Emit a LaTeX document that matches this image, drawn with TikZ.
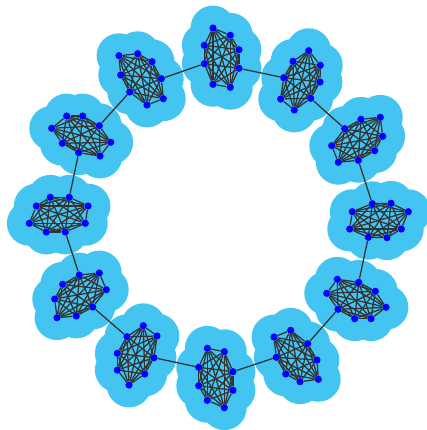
\documentclass[tikz,border=0pt]{standalone}
\pgfdeclarelayer{halos}
\pgfdeclarelayer{links}
\pgfsetlayers{halos,links,main}
\definecolor{haloblue}{RGB}{68,196,240}

\begin{document}
\begin{tikzpicture}[
  x=0.025cm, y=-0.025cm,
  vertex/.style = {circle, fill=blue, inner sep=0pt, minimum size=0.18cm},
  link/.style = {draw=black!80, line width=0.9pt},
  halo/.style = {fill=haloblue},
]
  \useasboundingbox (0,0) rectangle (427,430);

  % clique a (top)
  \node[vertex] (a1) at (213,28) {};
  \node[vertex] (a2) at (230.3,35.3) {};
  \node[vertex] (a3) at (204.3,45.3) {};
  \node[vertex] (a4) at (239,49.7) {};
  \node[vertex] (a5) at (204.3,63.7) {};
  \node[vertex] (a6) at (239,68.3) {};
  \node[vertex] (a7) at (213,84.3) {};
  \node[vertex] (a8) at (230.3,87.3) {};

  % clique b
  \node[vertex] (b1) at (308.7,50.7) {};
  \node[vertex] (b2) at (293,61.3) {};
  \node[vertex] (b3) at (320.3,65.3) {};
  \node[vertex] (b4) at (283.7,77.7) {};
  \node[vertex] (b5) at (320,82) {};
  \node[vertex] (b6) at (280.7,99) {};
  \node[vertex] (b7) at (310.7,98.3) {};
  \node[vertex] (b8) at (294.3,110) {};

  % clique c
  \node[vertex] (c1) at (361,119.3) {};
  \node[vertex] (c2) at (380.3,117.3) {};
  \node[vertex] (c3) at (344.7,128.7) {};
  \node[vertex] (c4) at (382.7,136.3) {};
  \node[vertex] (c5) at (331.7,145.7) {};
  \node[vertex] (c6) at (374.7,150.7) {};
  \node[vertex] (c7) at (358.3,160.3) {};
  \node[vertex] (c8) at (338.3,162.3) {};

  % clique d (right)
  \node[vertex] (d1) at (372.3,203.7) {};
  \node[vertex] (d2) at (391,203.3) {};
  \node[vertex] (d3) at (352.3,211.7) {};
  \node[vertex] (d4) at (408.3,211.7) {};
  \node[vertex] (d5) at (349.7,229) {};
  \node[vertex] (d6) at (401.3,229) {};
  \node[vertex] (d7) at (368.3,237.3) {};
  \node[vertex] (d8) at (387,237.7) {};

  % clique e
  \node[vertex] (e1) at (337.3,279.3) {};
  \node[vertex] (e2) at (358.7,282.3) {};
  \node[vertex] (e3) at (326.7,293.3) {};
  \node[vertex] (e4) at (375.3,291.3) {};
  \node[vertex] (e5) at (338,309.3) {};
  \node[vertex] (e6) at (386,307.3) {};
  \node[vertex] (e7) at (354.7,318.7) {};
  \node[vertex] (e8) at (371,318.7) {};

  % clique f
  \node[vertex] (f1) at (290.7,330.3) {};
  \node[vertex] (f2) at (274,337) {};
  \node[vertex] (f3) at (307.7,343.7) {};
  \node[vertex] (f4) at (276.3,357.3) {};
  \node[vertex] (f5) at (317,360) {};
  \node[vertex] (f6) at (285.7,374) {};
  \node[vertex] (f7) at (300,381.7) {};
  \node[vertex] (f8) at (318.3,379.3) {};

  % clique g (bottom)
  \node[vertex] (g1) at (207.3,348.3) {};
  \node[vertex] (g2) at (224.3,351.7) {};
  \node[vertex] (g3) at (198.7,367.3) {};
  \node[vertex] (g4) at (233,371.7) {};
  \node[vertex] (g5) at (198.7,385.7) {};
  \node[vertex] (g6) at (233,390.3) {};
  \node[vertex] (g7) at (207.3,400.3) {};
  \node[vertex] (g8) at (224.3,407.7) {};

  % clique h
  \node[vertex] (h1) at (143.3,325.7) {};
  \node[vertex] (h2) at (127,336.7) {};
  \node[vertex] (h3) at (157,336) {};
  \node[vertex] (h4) at (117.3,353.3) {};
  \node[vertex] (h5) at (154,357.7) {};
  \node[vertex] (h6) at (117.3,370) {};
  \node[vertex] (h7) at (144.7,374) {};
  \node[vertex] (h8) at (129,385) {};

  % clique i
  \node[vertex] (i1) at (99.3,273) {};
  \node[vertex] (i2) at (79.3,275) {};
  \node[vertex] (i3) at (62.7,284.3) {};
  \node[vertex] (i4) at (106.3,289.7) {};
  \node[vertex] (i5) at (54.7,299) {};
  \node[vertex] (i6) at (92.7,307) {};
  \node[vertex] (i7) at (76.3,316) {};
  \node[vertex] (i8) at (57,317.7) {};

  % clique j (left)
  \node[vertex] (j1) at (50.3,197.3) {};
  \node[vertex] (j2) at (69.3,197.3) {};
  \node[vertex] (j3) at (36.3,206) {};
  \node[vertex] (j4) at (88,206) {};
  \node[vertex] (j5) at (29.3,223.3) {};
  \node[vertex] (j6) at (85.3,223.3) {};
  \node[vertex] (j7) at (46.3,232) {};
  \node[vertex] (j8) at (65.3,232) {};

  % clique k
  \node[vertex] (k1) at (66.7,116) {};
  \node[vertex] (k2) at (82.7,116) {};
  \node[vertex] (k3) at (51.7,128.3) {};
  \node[vertex] (k4) at (99.3,125.7) {};
  \node[vertex] (k5) at (62.3,143.3) {};
  \node[vertex] (k6) at (110.7,142.3) {};
  \node[vertex] (k7) at (78.7,152.7) {};
  \node[vertex] (k8) at (100,156) {};

  % clique l
  \node[vertex] (l1) at (119,55.7) {};
  \node[vertex] (l2) at (137.7,53.7) {};
  \node[vertex] (l3) at (152,61.7) {};
  \node[vertex] (l4) at (120.7,75) {};
  \node[vertex] (l5) at (161.3,78.7) {};
  \node[vertex] (l6) at (129.7,92) {};
  \node[vertex] (l7) at (163.3,98.7) {};
  \node[vertex] (l8) at (147,105) {};

  % halos under everything
  \begin{pgfonlayer}{halos}
    \foreach \cl in {a,...,l}
      \foreach \n in {1,...,8}
        \fill[halo] (\cl\n) circle (0.56cm);
  \end{pgfonlayer}

  \begin{pgfonlayer}{links}
    % every clique is complete
    \foreach \cl in {a,...,l}
      \foreach \i in {1,...,7} {
        \pgfmathtruncatemacro\nxt{\i+1}
        \foreach \j in {\nxt,...,8}
          \draw[link] (\cl\i) -- (\cl\j);
      }
    % ring between cliques
    \draw[link] (a6) -- (b4);
    \draw[link] (b7) -- (c3);
    \draw[link] (c7) -- (d1);
    \draw[link] (d7) -- (e2);
    \draw[link] (e5) -- (f3);
    \draw[link] (f4) -- (g4);
    \draw[link] (g3) -- (h5);
    \draw[link] (h2) -- (i6);
    \draw[link] (i2) -- (j8);
    \draw[link] (j2) -- (k7);
    \draw[link] (k4) -- (l6);
    \draw[link] (l5) -- (a5);
  \end{pgfonlayer}
\end{tikzpicture}
\end{document}
